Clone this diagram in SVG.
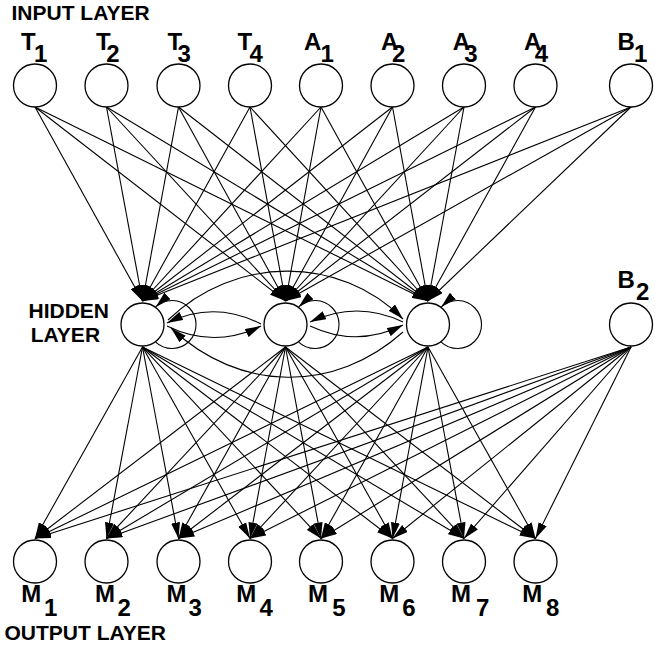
<svg xmlns="http://www.w3.org/2000/svg" width="655" height="648" viewBox="0 0 655 648">
  <style>
    .node { fill: #ffffff; stroke: #000000; stroke-width: 1.3; }
    .edge { fill: none; stroke: #000000; stroke-width: 1.1; marker-end: url(#ah); }
    .lbl { font-family: "Liberation Sans", Arial, sans-serif; font-weight: bold; font-size: 24px; fill: #000000; }
    .layer { font-family: "Liberation Sans", Arial, sans-serif; font-weight: bold; font-size: 21px; fill: #000000; }
  </style>
  <defs>
    <marker id="ah" viewBox="0 0 16 9" refX="16" refY="4.5" markerWidth="16" markerHeight="9" markerUnits="userSpaceOnUse" orient="auto">
      <path d="M0,0 L16,4.5 L0,9 z" fill="#000000"/>
    </marker>
  </defs>

  <rect width="655" height="648" fill="#ffffff"/>

  <!-- layer captions -->
  <text class="layer" x="11.5" y="20">INPUT LAYER</text>
  <text class="layer" x="28.5" y="318">HIDDEN</text>
  <text class="layer" x="30.8" y="342">LAYER</text>
  <text class="layer" x="4.5" y="640">OUTPUT LAYER</text>

  <g id="connectors">
    <!-- input layer to hidden layer -->
    <line class="edge" x1="35" y1="107" x2="142.5" y2="301"/>
    <line class="edge" x1="106.5" y1="107" x2="142.5" y2="301"/>
    <line class="edge" x1="178.5" y1="107" x2="142.5" y2="301"/>
    <line class="edge" x1="250" y1="107" x2="142.5" y2="301"/>
    <line class="edge" x1="321" y1="107" x2="142.5" y2="301"/>
    <line class="edge" x1="392.5" y1="107" x2="142.5" y2="301"/>
    <line class="edge" x1="464" y1="107" x2="142.5" y2="301"/>
    <line class="edge" x1="535.5" y1="107" x2="142.5" y2="301"/>
    <line class="edge" x1="631" y1="107" x2="142.5" y2="301"/>

    <line class="edge" x1="35" y1="107" x2="285.5" y2="301"/>
    <line class="edge" x1="106.5" y1="107" x2="285.5" y2="301"/>
    <line class="edge" x1="178.5" y1="107" x2="285.5" y2="301"/>
    <line class="edge" x1="250" y1="107" x2="285.5" y2="301"/>
    <line class="edge" x1="321" y1="107" x2="285.5" y2="301"/>
    <line class="edge" x1="392.5" y1="107" x2="285.5" y2="301"/>
    <line class="edge" x1="464" y1="107" x2="285.5" y2="301"/>
    <line class="edge" x1="535.5" y1="107" x2="285.5" y2="301"/>
    <line class="edge" x1="631" y1="107" x2="285.5" y2="301"/>

    <line class="edge" x1="35" y1="107" x2="428" y2="301"/>
    <line class="edge" x1="106.5" y1="107" x2="428" y2="301"/>
    <line class="edge" x1="178.5" y1="107" x2="428" y2="301"/>
    <line class="edge" x1="250" y1="107" x2="428" y2="301"/>
    <line class="edge" x1="321" y1="107" x2="428" y2="301"/>
    <line class="edge" x1="392.5" y1="107" x2="428" y2="301"/>
    <line class="edge" x1="464" y1="107" x2="428" y2="301"/>
    <line class="edge" x1="535.5" y1="107" x2="428" y2="301"/>
    <line class="edge" x1="631" y1="107" x2="428" y2="301"/>

    <!-- recurrent links inside the hidden layer -->
    <path class="edge" d="M155.7,342.1 A24,24 0 1 0 155.7,306.9"/>
    <path class="edge" d="M298.7,342.1 A24,24 0 1 0 298.7,306.9"/>
    <path class="edge" d="M441.2,342.1 A24,24 0 1 0 441.2,306.9"/>
    <path class="edge" d="M261,324 Q214,300 167,323"/>
    <path class="edge" d="M167,326 Q214,349 261,326"/>
    <path class="edge" d="M403,322 Q357,300 310,322"/>
    <path class="edge" d="M310,326 Q357,348 403,325"/>
    <path class="edge" d="M168,320 C235,255 340,255 403,319"/>
    <path class="edge" d="M403,332 C335,393 240,393 171,328"/>

    <!-- hidden layer to output layer -->
    <line class="edge" x1="142.5" y1="347" x2="35" y2="538.5"/>
    <line class="edge" x1="142.5" y1="347" x2="106.5" y2="538.5"/>
    <line class="edge" x1="142.5" y1="347" x2="178.5" y2="538.5"/>
    <line class="edge" x1="142.5" y1="347" x2="250" y2="538.5"/>
    <line class="edge" x1="142.5" y1="347" x2="321" y2="538.5"/>
    <line class="edge" x1="142.5" y1="347" x2="392.5" y2="538.5"/>
    <line class="edge" x1="142.5" y1="347" x2="464" y2="538.5"/>
    <line class="edge" x1="142.5" y1="347" x2="535.5" y2="538.5"/>

    <line class="edge" x1="285.5" y1="347" x2="35" y2="538.5"/>
    <line class="edge" x1="285.5" y1="347" x2="106.5" y2="538.5"/>
    <line class="edge" x1="285.5" y1="347" x2="178.5" y2="538.5"/>
    <line class="edge" x1="285.5" y1="347" x2="250" y2="538.5"/>
    <line class="edge" x1="285.5" y1="347" x2="321" y2="538.5"/>
    <line class="edge" x1="285.5" y1="347" x2="392.5" y2="538.5"/>
    <line class="edge" x1="285.5" y1="347" x2="464" y2="538.5"/>
    <line class="edge" x1="285.5" y1="347" x2="535.5" y2="538.5"/>

    <line class="edge" x1="428" y1="347" x2="35" y2="538.5"/>
    <line class="edge" x1="428" y1="347" x2="106.5" y2="538.5"/>
    <line class="edge" x1="428" y1="347" x2="178.5" y2="538.5"/>
    <line class="edge" x1="428" y1="347" x2="250" y2="538.5"/>
    <line class="edge" x1="428" y1="347" x2="321" y2="538.5"/>
    <line class="edge" x1="428" y1="347" x2="392.5" y2="538.5"/>
    <line class="edge" x1="428" y1="347" x2="464" y2="538.5"/>
    <line class="edge" x1="428" y1="347" x2="535.5" y2="538.5"/>

    <line class="edge" x1="631" y1="347" x2="35" y2="538.5"/>
    <line class="edge" x1="631" y1="347" x2="106.5" y2="538.5"/>
    <line class="edge" x1="631" y1="347" x2="178.5" y2="538.5"/>
    <line class="edge" x1="631" y1="347" x2="250" y2="538.5"/>
    <line class="edge" x1="631" y1="347" x2="321" y2="538.5"/>
    <line class="edge" x1="631" y1="347" x2="392.5" y2="538.5"/>
    <line class="edge" x1="631" y1="347" x2="464" y2="538.5"/>
    <line class="edge" x1="631" y1="347" x2="535.5" y2="538.5"/>
  </g>

  <!-- input layer -->
  <g id="T1"><circle class="node" cx="35" cy="85.5" r="21.5"/><text class="lbl" x="21" y="49.5">T<tspan x="34" y="62">1</tspan></text></g>
  <g id="T2"><circle class="node" cx="106.5" cy="85.5" r="21.5"/><text class="lbl" x="96" y="49.5">T<tspan x="106.3" y="62">2</tspan></text></g>
  <g id="T3"><circle class="node" cx="178.5" cy="85.5" r="21.5"/><text class="lbl" x="167.6" y="49.5">T<tspan x="177.6" y="62">3</tspan></text></g>
  <g id="T4"><circle class="node" cx="250" cy="85.5" r="21.5"/><text class="lbl" x="237.6" y="49.5">T<tspan x="249.5" y="62">4</tspan></text></g>
  <g id="A1"><circle class="node" cx="321" cy="85.5" r="21.5"/><text class="lbl" x="304" y="49.5">A<tspan x="320.5" y="62">1</tspan></text></g>
  <g id="A2"><circle class="node" cx="392.5" cy="85.5" r="21.5"/><text class="lbl" x="381" y="49.5">A<tspan x="392" y="62">2</tspan></text></g>
  <g id="A3"><circle class="node" cx="464" cy="85.5" r="21.5"/><text class="lbl" x="452.7" y="49.5">A<tspan x="464.3" y="62">3</tspan></text></g>
  <g id="A4"><circle class="node" cx="535.5" cy="85.5" r="21.5"/><text class="lbl" x="524" y="49.5">A<tspan x="534.7" y="62">4</tspan></text></g>
  <g id="B1"><circle class="node" cx="631" cy="85.5" r="21.5"/><text class="lbl" x="617.5" y="49.5">B<tspan x="634" y="62">1</tspan></text></g>

  <!-- hidden layer -->
  <g id="H1"><circle class="node" cx="142.5" cy="324.5" r="21.5"/></g>
  <g id="H2"><circle class="node" cx="285.5" cy="324.5" r="21.5"/></g>
  <g id="H3"><circle class="node" cx="428" cy="324.5" r="21.5"/></g>
  <g id="B2"><circle class="node" cx="631" cy="324.5" r="21.5"/><text class="lbl" x="617.5" y="288">B<tspan x="636" y="300">2</tspan></text></g>

  <!-- output layer -->
  <g id="M1"><circle class="node" cx="35" cy="561.5" r="21.5"/><text class="lbl" x="21.2" y="601.5">M<tspan x="44" y="615.5">1</tspan></text></g>
  <g id="M2"><circle class="node" cx="106.5" cy="561.5" r="21.5"/><text class="lbl" x="95" y="601.5">M<tspan x="117.6" y="615.5">2</tspan></text></g>
  <g id="M3"><circle class="node" cx="178.5" cy="561.5" r="21.5"/><text class="lbl" x="166.6" y="601.5">M<tspan x="188.6" y="615.5">3</tspan></text></g>
  <g id="M4"><circle class="node" cx="250" cy="561.5" r="21.5"/><text class="lbl" x="236.3" y="601.5">M<tspan x="259.5" y="615.5">4</tspan></text></g>
  <g id="M5"><circle class="node" cx="321" cy="561.5" r="21.5"/><text class="lbl" x="308" y="601.5">M<tspan x="332.3" y="615.5">5</tspan></text></g>
  <g id="M6"><circle class="node" cx="392.5" cy="561.5" r="21.5"/><text class="lbl" x="379.3" y="601.5">M<tspan x="402.3" y="615.5">6</tspan></text></g>
  <g id="M7"><circle class="node" cx="464" cy="561.5" r="21.5"/><text class="lbl" x="451" y="601.5">M<tspan x="476" y="615.5">7</tspan></text></g>
  <g id="M8"><circle class="node" cx="535.5" cy="561.5" r="21.5"/><text class="lbl" x="522.3" y="601.5">M<tspan x="546" y="615.5">8</tspan></text></g>
</svg>
